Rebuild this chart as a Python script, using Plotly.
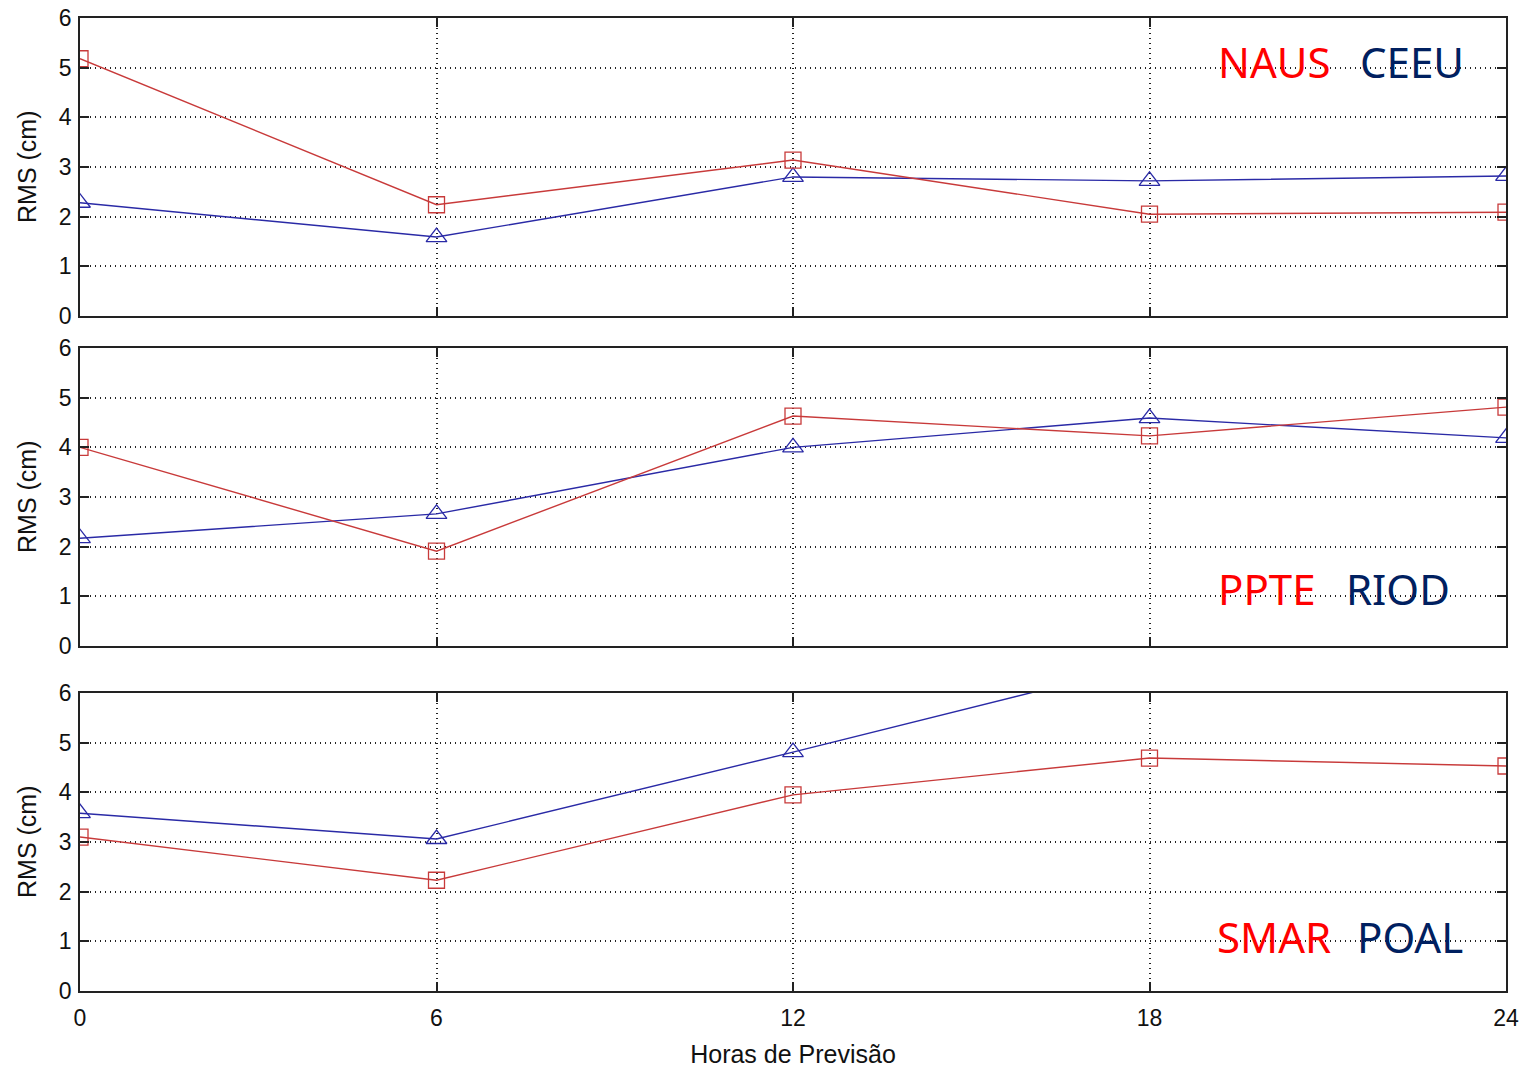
import plotly.graph_objects as go
from plotly.subplots import make_subplots

hours = [0, 6, 12, 18, 24]
y_ticks = [0, 1, 2, 3, 4, 5, 6]
x_ticks = [0, 6, 12, 18, 24]

naus = [5.18, 2.24, 3.14, 2.05, 2.09]
ceeu = [2.28, 1.59, 2.80, 2.72, 2.82]
ppte = [4.00, 1.91, 4.63, 4.23, 4.81]
riod = [2.17, 2.66, 4.00, 4.59, 4.19]
smar = [3.10, 2.23, 3.95, 4.69, 4.53]
poal = [3.58, 3.06, 4.81, 6.60, 6.90]

panels = [
    ("NAUS", naus, "CEEU", ceeu, 1),
    ("PPTE", ppte, "RIOD", riod, 2),
    ("SMAR", smar, "POAL", poal, 3),
]

RED_LINE = "#C83A3A"
BLUE_LINE = "#2A2AA6"
RED_TXT = "#FF0000"
NAVY_TXT = "#002060"

W, H = 1527, 1068
L, R_, T, B = 80, W - 1506, 18, H - 991
PH = H - T - B

def yfrac(py):
    return (991 - py) / PH

def xfrac(px):
    return (px - 80) / 1426

fig = make_subplots(rows=3, cols=1, shared_xaxes=False, vertical_spacing=0.0)

for rname, rvals, bname, bvals, row in panels:
    fig.add_trace(go.Scatter(
        x=hours, y=bvals, mode="lines+markers", name=bname,
        line=dict(color=BLUE_LINE, width=1.4),
        marker=dict(symbol="triangle-up-open", size=18, color=BLUE_LINE, line=dict(width=1.3)),
        showlegend=False), row=row, col=1)
    fig.add_trace(go.Scatter(
        x=hours, y=rvals, mode="lines+markers", name=rname,
        line=dict(color=RED_LINE, width=1.4),
        marker=dict(symbol="square-open", size=16, color=RED_LINE, line=dict(width=1.3)),
        showlegend=False), row=row, col=1)

domains = [[yfrac(316), 1.0], [yfrac(646), yfrac(348)], [0.0, yfrac(693)]]
tick_font = dict(family="Liberation Sans, Arial", size=23, color="#111111")
GRID_DASH = "1px,4px"

for i in range(3):
    ax = "" if i == 0 else str(i + 1)
    fig.layout["yaxis" + ax].update(
        domain=domains[i], range=[0, 6], tickvals=y_ticks,
        showgrid=True, gridcolor="#222222", griddash=GRID_DASH, gridwidth=1.5,
        zeroline=False, showline=True, linecolor="#222222", linewidth=1.5, mirror="ticks",
        ticks="inside", ticklen=9, tickcolor="#222222", tickwidth=1.5,
        tickfont=tick_font, automargin=False, ticklabeloverflow="allow",
        ticklabelstandoff=2,
    )
    fig.layout["xaxis" + ax].update(
        range=[0, 24], tickvals=x_ticks,
        showgrid=True, gridcolor="#222222", griddash=GRID_DASH, gridwidth=1.5,
        zeroline=False, showline=True, linecolor="#222222", linewidth=1.5, mirror="ticks",
        ticks="inside", ticklen=9, tickcolor="#222222", tickwidth=1.5,
        tickfont=tick_font, showticklabels=(i == 2), automargin=False,
        ticklabeloverflow="allow", ticklabelstandoff=6,
    )

fig.layout["xaxis3"].title = dict(text="Horas de Previsão",
                                  font=dict(family="Liberation Sans, Arial", size=25, color="#111111"),
                                  standoff=25)

# y-axis titles as rotated annotations (placed to the left like the original)
for py_top, py_bot in [(18, 316), (348, 646), (693, 991)]:
    fig.add_annotation(
        text="RMS (cm)", xref="paper", yref="paper",
        x=xfrac(27), y=yfrac((py_top + py_bot) / 2), xanchor="center", yanchor="middle",
        textangle=-90, showarrow=False,
        font=dict(family="Liberation Sans, Arial", size=25, color="#111111"))

ann_font = "Noto Sans, Open Sans, sans-serif"
labels = [
    ("NAUS", RED_TXT, 1216, 61),
    ("CEEU", NAVY_TXT, 1358, 61),
    ("PPTE", RED_TXT, 1216, 588),
    ("RIOD", NAVY_TXT, 1344, 588),
    ("SMAR", RED_TXT, 1215, 936),
    ("POAL", NAVY_TXT, 1355, 936),
]
for text, col, px, py in labels:
    fig.add_annotation(
        text=text, xref="paper", yref="paper",
        x=xfrac(px), y=yfrac(py), xanchor="left", yanchor="middle",
        showarrow=False, font=dict(family=ann_font, size=42, color=col))

fig.update_layout(
    width=W, height=H,
    margin=dict(l=L, r=R_, t=T, b=B, autoexpand=False),
    paper_bgcolor="white", plot_bgcolor="white",
    showlegend=False,
)

fig.write_html("out.html",
               config={"displayModeBar": False},
               post_script="document.body.style.margin='0';document.body.style.overflow='hidden';")
